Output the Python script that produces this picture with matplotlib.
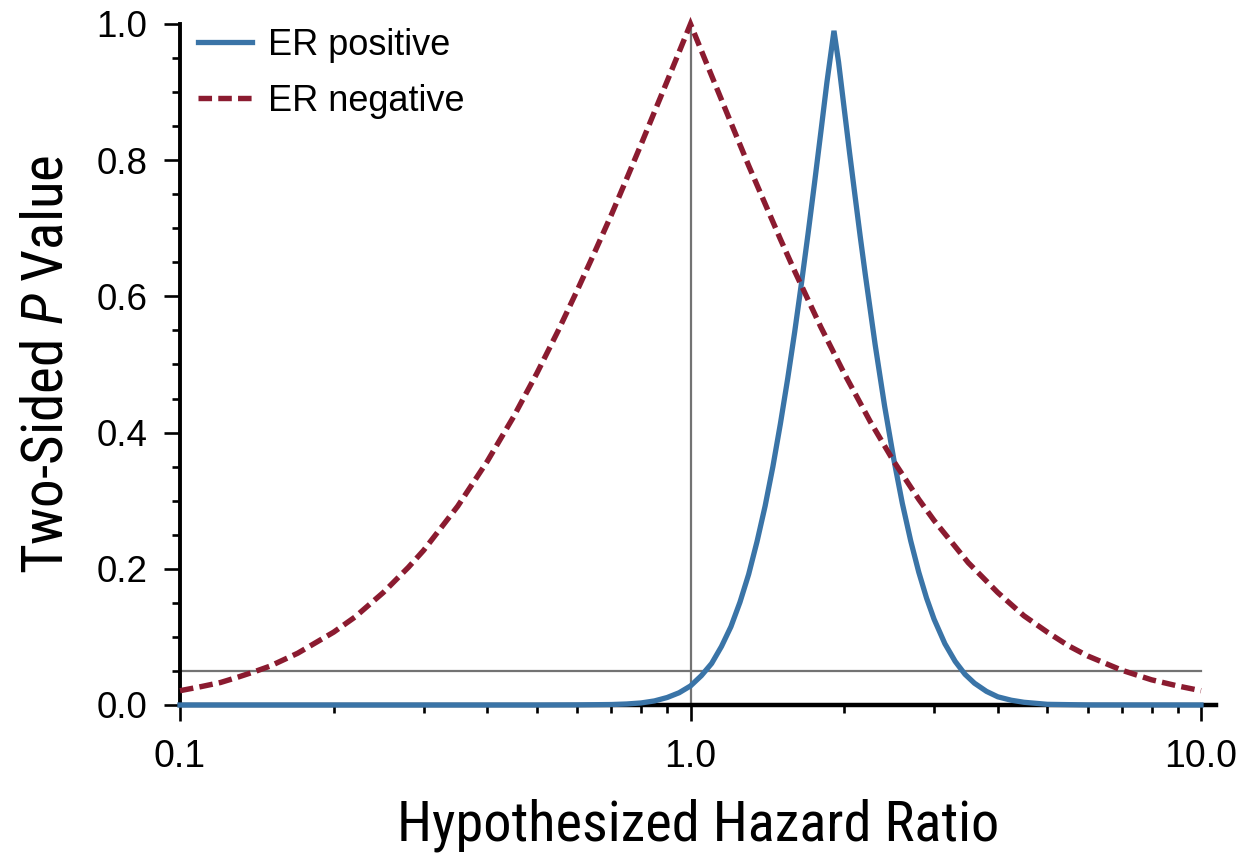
import math
import matplotlib
matplotlib.use("Agg")
import matplotlib.pyplot as plt
from matplotlib import font_manager as fm
from matplotlib.ticker import FixedLocator, NullFormatter, FixedFormatter

# ---- data ----
er_pos_hr = [0.1, 0.5, 0.6, 0.7, 0.75, 0.8, 0.85, 0.9, 0.95, 1.0, 1.05, 1.1, 1.15, 1.2, 1.25,
             1.3, 1.35, 1.4, 1.45, 1.5, 1.55, 1.6, 1.65, 1.7, 1.75, 1.8, 1.85, 1.91, 1.95,
             2.0, 2.05, 2.1, 2.15, 2.2, 2.3, 2.4, 2.5, 2.6, 2.7, 2.8, 2.9, 3.0, 3.15, 3.3,
             3.45, 3.6, 3.8, 4.0, 4.25, 4.5, 5.0, 6.0, 10.0]
er_pos_p = [0.0, 0.0, 0.0002, 0.0007, 0.0015, 0.003, 0.006, 0.011, 0.018, 0.028, 0.043, 0.061,
            0.086, 0.115, 0.151, 0.192, 0.240, 0.292, 0.350, 0.413, 0.479, 0.548, 0.620, 0.693,
            0.767, 0.841, 0.914, 0.99, 0.944, 0.876, 0.810, 0.748, 0.688, 0.632, 0.529, 0.439,
            0.362, 0.296, 0.241, 0.195, 0.157, 0.126, 0.090, 0.064, 0.045, 0.032, 0.020, 0.012,
            0.007, 0.004, 0.001, 0.0001, 0.0]

er_neg_hr = [0.1, 0.11, 0.12, 0.13, 0.14, 0.15, 0.17, 0.2, 0.22, 0.25, 0.28, 0.3, 0.35, 0.4,
             0.45, 0.5, 0.55, 0.6, 0.65, 0.7, 0.75, 0.8, 0.85, 0.9, 0.95, 1.0, 1.05, 1.1, 1.2,
             1.3, 1.4, 1.5, 1.6, 1.8, 2.0, 2.25, 2.5, 2.8, 3.0, 3.5, 4.0, 4.5, 5.0, 5.5, 6.0,
             7.0, 8.0, 9.0, 10.0]
er_neg_p = [0.021, 0.027, 0.033, 0.041, 0.049, 0.057, 0.076, 0.107, 0.129, 0.165, 0.202, 0.227,
            0.292, 0.358, 0.423, 0.487, 0.549, 0.609, 0.666, 0.720, 0.773, 0.823, 0.871, 0.916,
            0.959, 1.0, 0.961, 0.924, 0.855, 0.792, 0.736, 0.684, 0.637, 0.555, 0.487, 0.416,
            0.358, 0.302, 0.271, 0.209, 0.165, 0.131, 0.107, 0.087, 0.072, 0.051, 0.037, 0.028,
            0.021]

ref_p = 0.05
ref_hr = 1.0
x_major = [0.1, 1.0, 10.0]
x_major_labels = ["0.1", "1.0", "10.0"]
y_major = [0.0, 0.2, 0.4, 0.6, 0.8, 1.0]
y_major_labels = ["0.0", "0.2", "0.4", "0.6", "0.8", "1.0"]
x_minor = [m * d for d in (0.1, 1.0) for m in range(2, 10)]
y_minor = [i * 0.05 for i in range(21)]

BLUE = "#3a74a7"
RED = "#8b1b30"
GRAY = "#737373"

# ---- pick a condensed sans for the axis titles if one is installed ----
cond_name = None
prefs = ["Liberation Sans Narrow", "Roboto Condensed", "Open Sans Condensed",
         "Noto Sans Condensed", "DejaVu Sans Condensed", "Noto Sans Display Condensed"]
available = {f.name for f in fm.fontManager.ttflist}
for p in prefs:
    if p in available:
        cond_name = p
        break
if cond_name is None:
    for f in fm.fontManager.ttflist:
        if ("Condensed" in f.name or "Narrow" in f.name) and "Serif" not in f.name \
                and "Mono" not in f.name and "Semi" not in f.name and "Extra" not in f.name:
            cond_name = f.name
            break
label_family = [cond_name, "Liberation Sans", "DejaVu Sans"] if cond_name else ["Liberation Sans", "DejaVu Sans"]
plt.rcParams["mathtext.fontset"] = "custom"
plt.rcParams["mathtext.rm"] = label_family[0]
plt.rcParams["mathtext.it"] = label_family[0] + ":italic"

fig = plt.figure(figsize=(12.46, 8.56), dpi=100)
xmax = 10.7
ax_w = 1021 * (1 + 0.5 * (math.log10(xmax) - 1))
ax = fig.add_axes([180 / 1246, 151 / 856, ax_w / 1246, 681 / 856])

ax.plot([0.1, 10.0], [ref_p, ref_p], color=GRAY, lw=1.6, zorder=1)
ax.plot([ref_hr, ref_hr], [0.0, 1.0], color=GRAY, lw=1.6, zorder=1, clip_on=False)

ax.plot(er_pos_hr, er_pos_p, color=BLUE, lw=3.8, label="ER positive", zorder=3,
        clip_on=False, solid_joinstyle="miter")
ax.plot(er_neg_hr, er_neg_p, color=RED, lw=3.9, ls=(0, (2.5, 1.15)), label="ER negative",
        zorder=4, clip_on=False, dash_capstyle="butt", dash_joinstyle="miter")

ax.set_xscale("log")
ax.set_xlim(0.1, xmax)
ax.set_ylim(0, 1.0)

ax.xaxis.set_major_locator(FixedLocator(x_major))
ax.xaxis.set_major_formatter(FixedFormatter(x_major_labels))
ax.xaxis.set_minor_locator(FixedLocator(x_minor))
ax.xaxis.set_minor_formatter(NullFormatter())
ax.yaxis.set_major_locator(FixedLocator(y_major))
ax.yaxis.set_major_formatter(FixedFormatter(y_major_labels))
ax.yaxis.set_minor_locator(FixedLocator(y_minor))

for s in ("top", "right"):
    ax.spines[s].set_visible(False)
ax.spines["left"].set_linewidth(2.8)
ax.spines["bottom"].set_linewidth(3.2)

ax.tick_params(axis="both", which="major", length=11.5, width=1.9, direction="out")
ax.tick_params(axis="both", which="minor", length=6, width=1.9, direction="out")
ax.tick_params(axis="y", which="major", pad=12)
ax.tick_params(axis="x", which="major", pad=13)
for lab in ax.get_xticklabels():
    lab.set_fontfamily(["Liberation Sans", "DejaVu Sans"])
    lab.set_fontsize(27)
for lab in ax.get_yticklabels():
    lab.set_fontfamily(["Liberation Sans", "DejaVu Sans"])
    lab.set_fontsize(26.5)

xl = ax.set_xlabel("Hypothesized Hazard Ratio", fontsize=43, family=label_family, labelpad=17)
yl = ax.set_ylabel("Two-Sided $P$ Value", fontsize=43, family=label_family, labelpad=16)

# fit the axis titles to the widths seen in the reference
fig.canvas.draw()
r = fig.canvas.get_renderer()
wx = xl.get_window_extent(r).width
xl.set_fontsize(min(46, 43 * 602 / wx))
hy = yl.get_window_extent(r).height
yl.set_fontsize(min(46, 43 * 420 / hy))

ax.legend(loc="upper left", bbox_to_anchor=(0.01, 1.005), frameon=False,
          prop=dict(family=["Liberation Sans", "DejaVu Sans"], size=26),
          handlelength=1.5, handletextpad=0.45, labelspacing=0.58,
          borderaxespad=0.0, borderpad=0.2)

fig.savefig("out.png", dpi=100)
